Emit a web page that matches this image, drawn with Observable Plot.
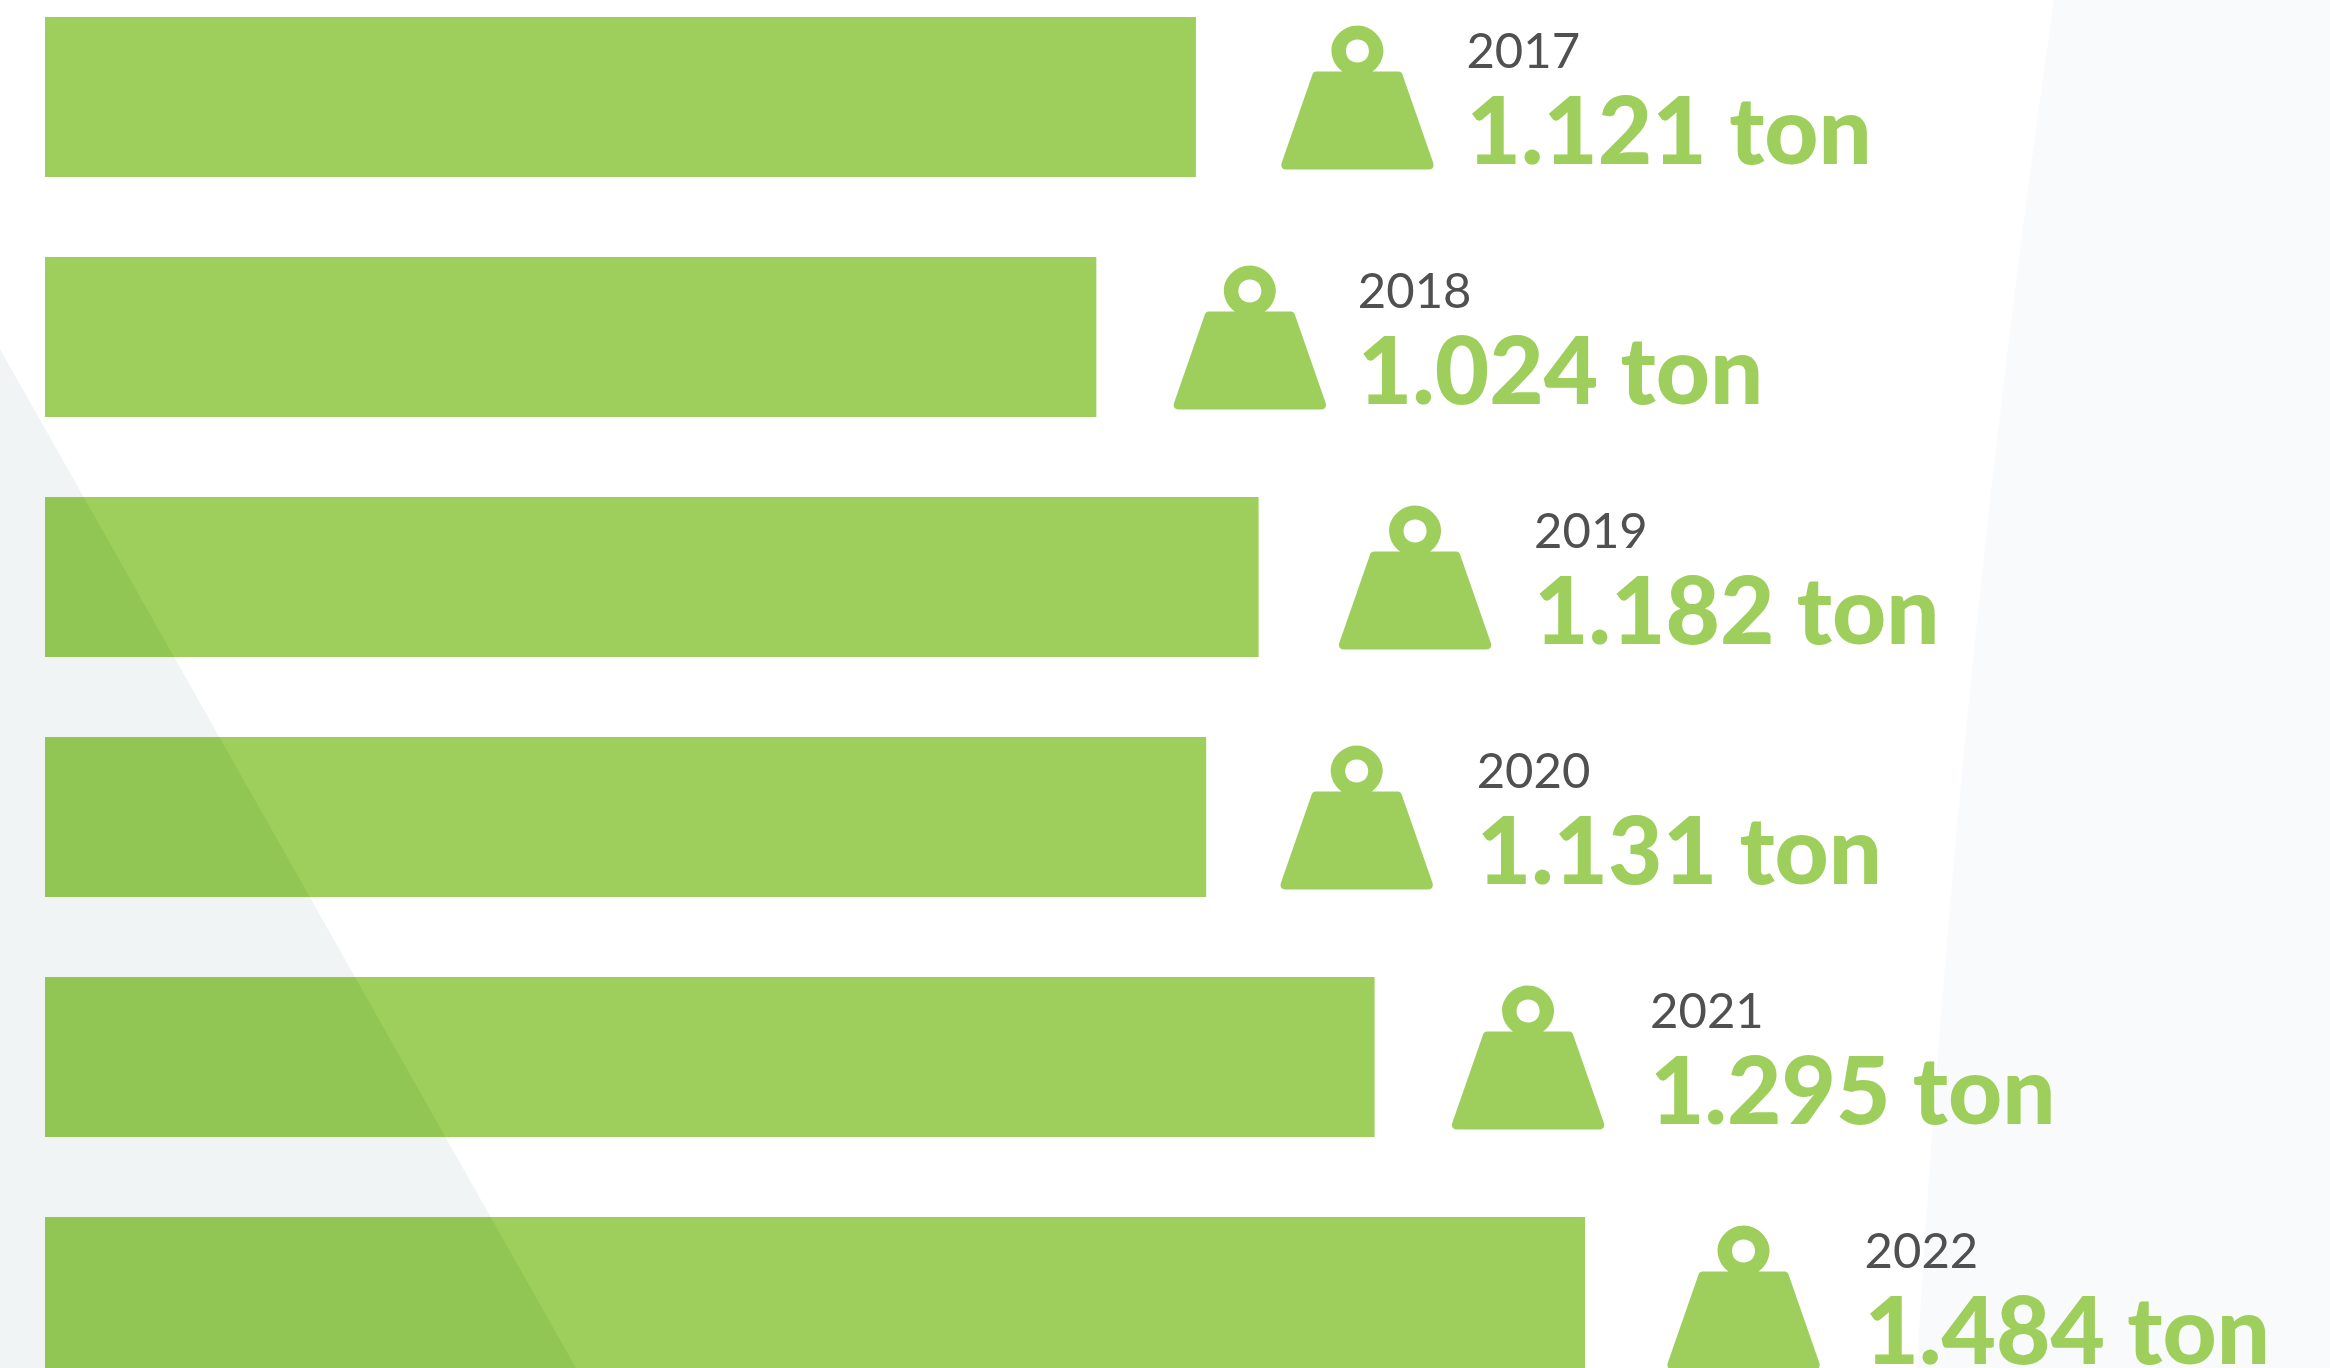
<!DOCTYPE html>
<html><head><meta charset="utf-8">
<script src="https://cdn.jsdelivr.net/npm/d3@7"></script>
<script src="https://cdn.jsdelivr.net/npm/@observablehq/plot@0.6"></script>
<style>
html,body{margin:0;padding:0;background:#fff;width:2330px;height:1368px;overflow:hidden}
#wrap{position:relative;width:2330px;height:1368px;overflow:hidden}
#wrap svg{position:absolute;left:0;top:0;max-width:none;background:transparent}
.bg{position:absolute;left:0;top:0;width:2330px;height:1368px;pointer-events:none}
#bgR{background:#f9fafc;clip-path:path("M2054 0 L2330 0 L2330 1368 L1917 1368 Q1955 690 2054 0 Z")}
#bgL{background:#f0f4f5;clip-path:polygon(0 349px,576px 1368px,0 1368px)}
#dark{clip-path:polygon(0 349px,576px 1368px,0 1368px)}
</style></head><body>
<div id="wrap"><div class="bg" id="bgR"></div><div class="bg" id="bgL"></div><div class="bg" id="chart"></div><div class="bg" id="dark"></div></div>
<script>
const years = ["2017","2018","2019","2020","2021","2022"];
const barTons = [1121,1024,1182,1131,1295,1500];
const labels = ["1.121 ton","1.024 ton","1.182 ton","1.131 ton","1.295 ton","1.484 ton"];

const rows = years.map((year,i)=>({year,value:barTons[i],label:labels[i]}));
// per-row layout offsets from each bar end, in pixels
const iconGap = [161,153,156,150,153,158];
const yearGap = [270,261,275,270,275,279];

const weight = {draw(ctx,size){
  const k = Math.sqrt(size/Math.PI)/100;
  const P=(x,y)=>[x*k,y*k];
  const m=(x,y)=>ctx.moveTo(...P(x,y)), l=(x,y)=>ctx.lineTo(...P(x,y));
  const q=(a,b,c,d)=>ctx.quadraticCurveTo(...P(a,b),...P(c,d));
  const c=(a,b,d,e,f,g)=>ctx.bezierCurveTo(...P(a,b),...P(d,e),...P(f,g));
  m(-41,-26); l(-15,-26);
  c(-22,-31,-26,-39,-26,-47); c(-26,-60,-14,-72,0,-72); c(14,-72,26,-60,26,-47); c(26,-39,22,-31,15,-26);
  l(41,-26); q(44,-26,45,-23); l(76,66); q(77,72,71,72); l(-71,72); q(-77,72,-76,66); l(-45,-23); q(-44,-26,-41,-26);
  ctx.closePath();
  // hole (opposite winding)
  m(0,-58); c(-7,-58,-11.5,-53,-11.5,-46.5); c(-11.5,-40,-7,-35,0,-35); c(7,-35,11.5,-40,11.5,-46.5); c(11.5,-53,7,-58,0,-58);
  ctx.closePath();
}};

const green="#9ecf5c", greenDark="#91c655";
const font="Lato";
const base={
  width:2330,height:1368,margin:0,
  style:{background:"transparent",overflow:"hidden"},
  x:{domain:[0,2330/1.0267],range:[45,45+2330],axis:null},
  y:{type:"band",domain:years,range:[17,1377],paddingInner:1/3,paddingOuter:0,round:false,axis:null}
};
const marks=[Plot.barX(rows,{x:"value",y:"year",fill:green})];
rows.forEach((r,i)=>{
  marks.push(Plot.dot([r],{x:"value",y:"year",symbol:weight,r:100,fill:green,stroke:"none",dx:iconGap[i]}));
  marks.push(Plot.text([r],{x:"value",y:"year",text:"year",dx:yearGap[i],dy:-45,textAnchor:"start",fill:"#505050",fontFamily:font,fontSize:49}));
  marks.push(Plot.text([r],{x:"value",y:"year",text:"label",dx:yearGap[i],dy:36,textAnchor:"start",fill:green,fontFamily:font,fontWeight:900,fontSize:94}));
});
document.getElementById("chart").append(Plot.plot({...base,marks}));
document.getElementById("dark").append(Plot.plot({...base,marks:[Plot.barX(rows,{x:"value",y:"year",fill:greenDark})]}));
</script>
</body></html>
